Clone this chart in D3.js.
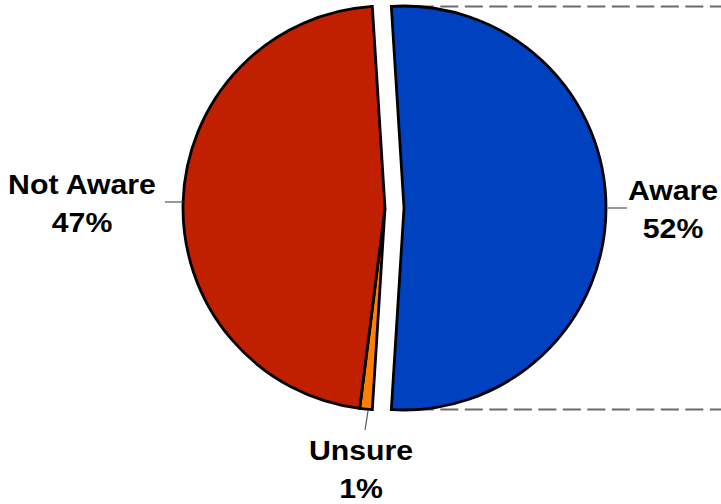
<!DOCTYPE html>
<html>
<head>
<meta charset="utf-8">
<script src="https://cdn.jsdelivr.net/npm/d3@7"></script>
<style>
  html, body { margin: 0; padding: 0; background: #fff; }
  svg { display: block; }
  text { font-family: "Liberation Sans", Arial, sans-serif; font-weight: bold; fill: #000; }
</style>
</head>
<body>
<svg id="chart" width="721" height="504"></svg>
<script>
// ---- data ----
const categories = ["Aware", "Unsure", "Not Aware"];
const values = [52, 1, 47];
const percentLabels = ["52%", "1%", "47%"];
const colors = ["#0041C0", "#FF8000", "#C02000"];
const explodedCategory = "Aware";

// ---- layout ----
const width = 721, height = 504;
const cx = 385, cy = 208, r = 202;
const explode = 19;

const svg = d3.select("#chart");
const data = categories.map((c, i) => ({ name: c, value: values[i], pct: percentLabels[i], color: colors[i] }));

const total = d3.sum(values);
const awareFrac = values[0] / total;
const start = Math.PI / 2 - awareFrac * Math.PI;

const pie = d3.pie().value(d => d.value).sort(null)
  .startAngle(start).endAngle(start + 2 * Math.PI);
const arcs = pie(data);
const arc = d3.arc().innerRadius(0).outerRadius(r);

function offsetOf(a) {
  if (a.data.name !== explodedCategory) return [0, 0];
  const mid = (a.startAngle + a.endAngle) / 2;
  return [explode * Math.sin(mid), -explode * Math.cos(mid)];
}
function pt(angle, rad) { return [rad * Math.sin(angle), -rad * Math.cos(angle)]; }

// dashed connector lines (pie-of-pie) from the exploded slice edges
const ex = arcs.find(a => a.data.name === explodedCategory);
const exOff = offsetOf(ex);
[ex.startAngle, ex.endAngle].forEach(ang => {
  const p = pt(ang, r);
  const x0 = cx + exOff[0] + p[0], y0 = cy + exOff[1] + p[1];
  svg.append("line")
    .attr("x1", x0).attr("y1", y0)
    .attr("x2", width + 20).attr("y2", y0)
    .attr("stroke", "#6a6a6a").attr("stroke-width", 2)
    .attr("stroke-dasharray", "18,6.5");
});

// slices
const g = svg.append("g").attr("transform", `translate(${cx},${cy})`);
g.selectAll("path.slice").data(arcs).join("path")
  .attr("class", "slice")
  .attr("transform", d => { const o = offsetOf(d); return `translate(${o[0]},${o[1]})`; })
  .attr("d", arc)
  .attr("fill", d => d.data.color)
  .attr("stroke", "#000")
  .attr("stroke-width", 2.8)
  .attr("stroke-linejoin", "miter");

// labels
const labelPos = {
  "Aware": { x: 673, y: 200, leader: [[608, 208], [627, 208]] },
  "Not Aware": { x: 82, y: 194, leader: [[165, 202], [183, 202]] },
  "Unsure": { x: 361, y: 460, leader: [[368, 411], [365, 430]] }
};
const fs = 28, lineGap = 38, sx = 1.08;

arcs.forEach(a => {
  const lp = labelPos[a.data.name];
  svg.append("line")
    .attr("x1", lp.leader[0][0]).attr("y1", lp.leader[0][1])
    .attr("x2", lp.leader[1][0]).attr("y2", lp.leader[1][1])
    .attr("stroke", "#555").attr("stroke-width", 1.2);
  const t = svg.append("g").attr("transform", `translate(${lp.x},${lp.y}) scale(${sx},1)`);
  t.append("text").attr("text-anchor", "middle").attr("font-size", fs).attr("y", 0).text(a.data.name);
  t.append("text").attr("text-anchor", "middle").attr("font-size", fs).attr("y", lineGap).text(a.data.pct);
});
</script>
</body>
</html>
